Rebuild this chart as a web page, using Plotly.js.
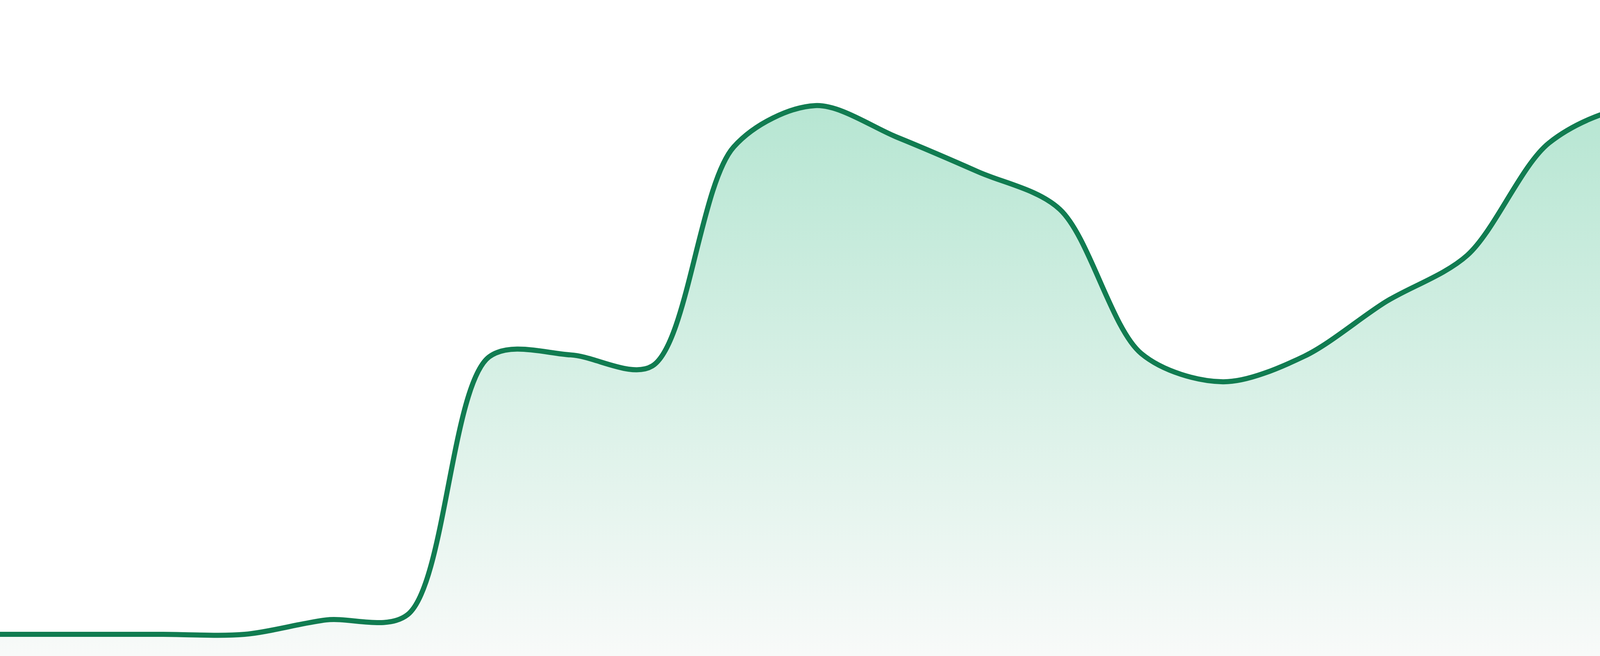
<!DOCTYPE html>
<html>
<head>
<meta charset="utf-8">
<script src="https://cdn.plot.ly/plotly-3.0.1.min.js"></script>
<style>
    html, body { margin: 0; padding: 0; background: #ffffff; }
    #chart { width: 4800px; height: 1680px; }
</style>
</head>
<body>
<div id="chart"></div>
<script>
// one point per period
var periods = [0, 1, 2, 3, 4, 5, 6, 7, 8, 9, 10, 11, 12, 13, 14, 15, 16, 17, 18, 19, 20, 21, 22, 23]
var values = [3.3, 3.3, 3.3, 3.3, 5.5, 6.3, 45.6, 45.9, 44.2, 77.6, 83.9, 79.1,
    73.8, 68.1, 46.1, 41.8, 45.7, 54.0, 61.1, 78.2, 83.6, 80.9, 74.5, 88.0]

function renderSparkline(_x, _y) {
    var trace = {
        x: _x,
        y: _y,
        mode: "lines",
        type: "scatter",
        line: { shape: "spline", smoothing: 0.9, color: "#117c51", width: 13 },
        fill: "tozeroy",
        fillgradient: {
            type: "vertical",
            start: 0,
            stop: 100,
            colorscale: [[0, "#f8faf9"], [1, "#aae2cb"]]
        },
        hoverinfo: "skip"
    }

    var layout = {
        width: 4800,
        height: 1680,
        margin: { t: 0, b: 0, l: 0, r: 0, pad: 0 },
        xaxis: { range: [0, 23], visible: false, fixedrange: true },
        yaxis: { range: [0, 100], visible: false, fixedrange: true },
        showlegend: false,
        plot_bgcolor: "#ffffff",
        paper_bgcolor: "#ffffff"
    }

    Plotly.newPlot("chart", [trace], layout, { displayModeBar: false, staticPlot: true })
}

renderSparkline(periods, values)
</script>
</body>
</html>
